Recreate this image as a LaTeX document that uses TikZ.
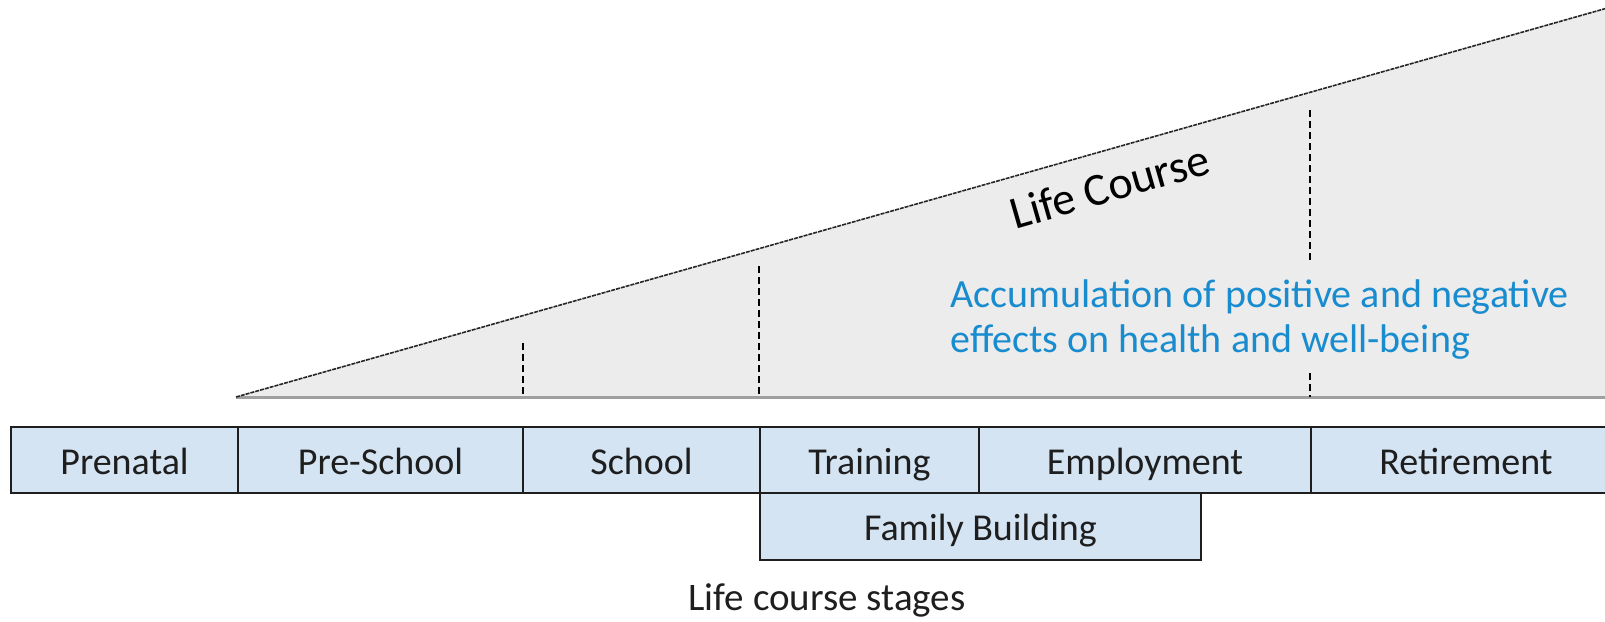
\documentclass[tikz,border=0pt]{standalone}
\usepackage{fontspec}
\setmainfont{Carlito}
\definecolor{cellblue}{RGB}{212,228,243}
\definecolor{wedgegrey}{RGB}{236,236,236}
\definecolor{baselinegrey}{RGB}{160,160,160}
\definecolor{accblue}{RGB}{24,140,206}
\definecolor{inkdark}{RGB}{30,30,30}
\begin{document}
\begin{tikzpicture}[x=0.5pt,y=-0.5pt,
  cell/.style={draw=inkdark, line width=1pt, fill=cellblue, anchor=north west,
    minimum height=33pt, inner sep=0pt, text=inkdark,
    text height=14pt, text depth=0pt,
    font=\fontsize{19}{22}\selectfont},
  stagesep/.style={draw=black, line width=1.1pt, dash pattern=on 3.5pt off 2pt},
  wedgeedge/.style={draw=black!85, line width=0.8pt, dash pattern=on 2pt off 0.5pt},
  acc/.style={anchor=base west, inner sep=0pt, text=accblue,
    font=\fontsize{20}{22}\selectfont},
]
\useasboundingbox (0,0) rectangle (1605,621);
\clip (0,0) rectangle (1605,621);

% the widening wedge of the life course
\fill[wedgegrey] (236,397) -- (1625,3) -- (1625,397) -- cycle;
\draw[baselinegrey, line width=1.5pt] (236,397) -- (1625,397);
\draw[wedgeedge] (236,397) -- (1625,3);

% dashed markers between stages
\draw[stagesep] (523,343) -- (523,397);
\draw[stagesep] (759,266) -- (759,397);
\draw[stagesep] (1310,110) -- (1310,263);
\draw[stagesep] (1310,373) -- (1310,397);

% wedge labels
\node[rotate=16, inner sep=0pt, text=black, font=\fontsize{23}{26}\selectfont]
  (lifecourse) at (1110,186) {Life Course};
\node[acc] (acc1) at (950,307) {Accumulation of positive and negative};
\node[acc] (acc2) at (950,352) {effects on health and well-being};

% stage row
\node[cell, minimum width=113.5pt] (prenatal)   at (10,426)   {Prenatal};
\node[cell, minimum width=142.5pt] (preschool)  at (237,426)  {Pre-School};
\node[cell, minimum width=118.5pt] (school)     at (522,426)  {School};
\node[cell, minimum width=109.5pt] (training)   at (759,426)  {Training};
\node[cell, minimum width=166pt]   (employment) at (978,426)  {Employment};
\node[cell, minimum width=155pt]   (retirement) at (1310,426) {Retirement};
\node[cell, minimum width=220.5pt, minimum height=33.5pt] (family) at (759,492) {Family Building};

% caption
\node[inner sep=0pt, text=inkdark, font=\fontsize{19.5}{22}\selectfont]
  (caption) at (827,600) {Life course stages};
\end{tikzpicture}
\end{document}
